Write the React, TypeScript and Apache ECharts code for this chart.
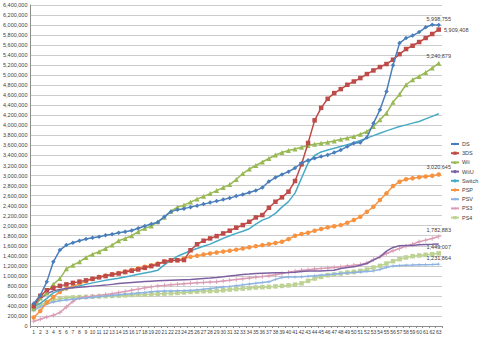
import React, { useEffect, useRef } from "react";
import * as echarts from "echarts";

const categories: string[] = Array.from({ length: 63 }, (_, i) => String(i + 1));

const yTicks = { min: 0, max: 6400000, interval: 200000 };

const seriesNames = ["DS", "3DS", "Wii", "WiiU", "Switch", "PSP", "PSV", "PS3", "PS4"];

const ds = [447000, 613000, 880000, 1279000, 1513000, 1613000, 1660000, 1700000, 1733000, 1760000, 1780000, 1810000, 1830000, 1860000, 1880000, 1905000, 1950000, 1995000, 2035000, 2070000, 2180000, 2280000, 2320000, 2340000, 2370000, 2400000, 2430000, 2460000, 2490000, 2520000, 2550000, 2590000, 2620000, 2660000, 2700000, 2760000, 2880000, 2960000, 3020000, 3077000, 3150000, 3250000, 3305000, 3344000, 3377000, 3411000, 3457000, 3510000, 3577000, 3644000, 3660000, 3760000, 4040000, 4310000, 4676000, 5200000, 5640000, 5740000, 5790000, 5860000, 5955000, 6005000, 5998755];
const ds3 = [394000, 600000, 713000, 760000, 800000, 830000, 860000, 885000, 910000, 940000, 970000, 995000, 1027000, 1047000, 1075000, 1100000, 1127000, 1160000, 1193000, 1230000, 1285000, 1310000, 1310000, 1315000, 1510000, 1630000, 1700000, 1746000, 1792000, 1846000, 1900000, 1960000, 2012000, 2078000, 2165000, 2212000, 2358000, 2478000, 2565000, 2678000, 2891000, 3224000, 3650000, 4100000, 4350000, 4530000, 4643000, 4723000, 4809000, 4875000, 4943000, 5023000, 5095000, 5163000, 5223000, 5309000, 5420000, 5522000, 5588000, 5662000, 5742000, 5822000, 5909408];
const wii = [360000, 560000, 660000, 830000, 946000, 1140000, 1213000, 1280000, 1367000, 1433000, 1480000, 1547000, 1613000, 1700000, 1747000, 1800000, 1880000, 1947000, 1993000, 2080000, 2170000, 2290000, 2370000, 2410000, 2470000, 2530000, 2585000, 2640000, 2700000, 2760000, 2820000, 2920000, 3040000, 3130000, 3200000, 3270000, 3340000, 3410000, 3460000, 3500000, 3530000, 3564000, 3597000, 3624000, 3644000, 3664000, 3690000, 3724000, 3750000, 3777000, 3824000, 3877000, 3977000, 4110000, 4244000, 4460000, 4620000, 4810000, 4910000, 4976000, 5055000, 5143000, 5240879];
const wiiu = [380000, 540000, 640000, 700000, 730000, 750000, 765000, 775000, 785000, 795000, 805000, 815000, 830000, 845000, 855000, 865000, 875000, 885000, 893000, 900000, 905000, 910000, 915000, 920000, 925000, 935000, 945000, 955000, 967000, 980000, 995000, 1010000, 1027000, 1035000, 1045000, 1052000, 1059000, 1062000, 1064000, 1066000, 1072000, 1085000, 1095000, 1098000, 1099000, 1105000, 1113000, 1146000, 1165000, 1179000, 1210000, 1246000, 1313000, 1379000, 1492000, 1566000, 1599000, 1605000, 1607000, 1619000, 1625000, 1628000, 1634688];
const sw = [380000, 450000, 550000, 660000, 710000, 740000, 770000, 800000, 830000, 860000, 885000, 910000, 930000, 950000, 975000, 1000000, 1030000, 1055000, 1080000, 1113000, 1220000, 1313000, 1390000, 1446000, 1500000, 1546000, 1590000, 1632000, 1690000, 1746000, 1800000, 1846000, 1890000, 1940000, 2030000, 2110000, 2160000, 2246000, 2370000, 2480000, 2650000, 2950000, 3250000, 3400000, 3470000, 3510000, 3545000, 3577000, 3615000, 3655000, 3697000, 3745000, 3795000, 3844000, 3890000, 3935000, 3977000, 4010000, 4045000, 4077000, 4130000, 4180000, 4230855];
const psp = [170000, 300000, 470000, 580000, 679000, 746000, 790000, 840000, 890000, 940000, 980000, 1005000, 1030000, 1055000, 1090000, 1120000, 1150000, 1180000, 1213000, 1245000, 1279000, 1300000, 1313000, 1345000, 1379000, 1400000, 1426000, 1446000, 1466000, 1483000, 1499000, 1522000, 1546000, 1570000, 1592000, 1612000, 1632000, 1655000, 1679000, 1732000, 1800000, 1835000, 1860000, 1900000, 1935000, 1966000, 1990000, 2012000, 2060000, 2112000, 2178000, 2278000, 2378000, 2511000, 2645000, 2791000, 2877000, 2925000, 2945000, 2965000, 2980000, 2997000, 3020645];
const psv = [310000, 380000, 440000, 480000, 505000, 520000, 535000, 548000, 560000, 572000, 585000, 597000, 610000, 622000, 635000, 645000, 658000, 670000, 685000, 693000, 697000, 700000, 703000, 706000, 710000, 720000, 735000, 750000, 765000, 778000, 790000, 805000, 820000, 835000, 850000, 865000, 880000, 930000, 967000, 975000, 978000, 980000, 990000, 1000000, 1013000, 1024000, 1035000, 1046000, 1057000, 1068000, 1079000, 1089000, 1099000, 1126000, 1170000, 1195000, 1208000, 1212000, 1215000, 1219000, 1223000, 1227000, 1231864];
const ps3 = [95000, 135000, 180000, 213000, 267000, 380000, 490000, 565000, 580000, 595000, 610000, 627000, 645000, 667000, 690000, 713000, 735000, 760000, 780000, 800000, 810000, 820000, 830000, 840000, 850000, 860000, 868000, 875000, 880000, 895000, 910000, 925000, 940000, 955000, 970000, 985000, 1000000, 1020000, 1046000, 1070000, 1090000, 1110000, 1120000, 1135000, 1146000, 1155000, 1165000, 1179000, 1195000, 1210000, 1226000, 1259000, 1326000, 1379000, 1446000, 1499000, 1546000, 1592000, 1632000, 1679000, 1712000, 1746000, 1782883];
const ps4 = [333000, 413000, 480000, 513000, 546000, 560000, 570000, 575000, 580000, 585000, 590000, 595000, 600000, 605000, 612000, 618000, 624000, 630000, 633000, 638000, 646000, 652000, 659000, 668000, 679000, 686000, 693000, 696000, 699000, 713000, 727000, 737000, 746000, 757000, 767000, 774000, 780000, 790000, 799000, 810000, 825000, 850000, 900000, 946000, 979000, 1013000, 1026000, 1046000, 1066000, 1079000, 1099000, 1126000, 1166000, 1199000, 1246000, 1292000, 1332000, 1366000, 1392000, 1406000, 1419000, 1432000, 1449007];

const CROSS = "path://M4,0h2v4h4v2h-4v4h-2v-4h-4v-2h4z";

const styles = [
  { color: "#4A7EBB", symbol: "diamond", size: 4.5, label: { position: "top", distance: 1 } },
  { color: "#BE4B48", symbol: "rect", size: 4.5, label: { position: "right", distance: 3 } },
  { color: "#98B954", symbol: "triangle", size: 5, label: { position: "top", distance: 2 } },
  { color: "#7D60A0", symbol: "none", size: 0, label: { position: "top", distance: 1, offset: [8, -1] } },
  { color: "#46AAC5", symbol: "none", size: 0, label: { position: "top", distance: 2 } },
  { color: "#F69240", symbol: "circle", size: 4.5, label: { position: "top", distance: 2 } },
  { color: "#8DB3E2", symbol: CROSS, size: 3.5, label: { position: "top", distance: 1.5 } },
  { color: "#DA9BB4", symbol: CROSS, size: 4.5, label: { position: "top", distance: 1.5 } },
  { color: "#BDD293", symbol: "rect", size: 4.5, label: { position: "top", distance: 1 } },
];

const allData = [ds, ds3, wii, wiiu, sw, psp, psv, ps3, ps4];

const FONT = "Liberation Sans";

export default function App() {
  const ref = useRef<HTMLDivElement>(null);
  useEffect(() => {
    if (!ref.current) return;
    const chart = echarts.init(ref.current, undefined, { renderer: "svg" });
    const fmt = (v: number) => v.toLocaleString("en-US");
    const series = seriesNames.map((name, si) => {
      const st = styles[si];
      const data = allData[si].map((v, i) =>
        i === allData[si].length - 1
          ? {
              value: v,
              label: {
                show: true,
                formatter: fmt(v),
                fontSize: 5.5,
                color: "#404040",
                fontFamily: FONT,
                ...st.label,
              },
            }
          : v
      );
      return {
        name,
        type: "line",
        data,
        symbol: st.symbol,
        symbolSize: st.size,
        showSymbol: st.symbol !== "none",
        lineStyle: { color: st.color, width: 1.5 },
        itemStyle: { color: st.color, borderWidth: 0 },
        emphasis: { disabled: true },
        labelLayout: { hideOverlap: false },
        z: 10 - si,
      };
    });
    chart.setOption({
      animation: false,
      backgroundColor: "#ffffff",
      textStyle: { fontFamily: FONT },
      grid: { left: 29, right: 38, top: 5, bottom: 13, containLabel: false },
      legend: {
        orient: "vertical",
        left: 450,
        top: 141,
        padding: 0,
        itemWidth: 8,
        itemHeight: 4,
        itemGap: 3.2,
        textStyle: { fontSize: 5.5, color: "#404040", fontFamily: FONT, padding: [0, 0, 0, -2] },
        data: seriesNames,
      },
      xAxis: {
        type: "category",
        data: categories,
        boundaryGap: true,
        axisLine: { lineStyle: { color: "#8c8c8c", width: 1 } },
        axisTick: { show: true, lineStyle: { color: "#8c8c8c" }, length: 2 },
        axisLabel: { interval: 0, fontSize: 5, color: "#404040", margin: 3, fontFamily: FONT },
        splitLine: { show: false },
      },
      yAxis: {
        type: "value",
        min: yTicks.min,
        max: yTicks.max,
        interval: yTicks.interval,
        axisLine: { show: true, lineStyle: { color: "#8c8c8c", width: 1 } },
        axisTick: { show: false },
        axisLabel: { fontSize: 5.5, color: "#404040", margin: 3, fontFamily: FONT, formatter: (v: number) => fmt(v) },
        splitLine: { lineStyle: { color: "#cccccc", width: 1 } },
      },
      series,
    });
    return () => chart.dispose();
  }, []);
  return <div ref={ref} style={{ position: "fixed", left: 0, top: 0, width: 480, height: 339 }} />;
}
